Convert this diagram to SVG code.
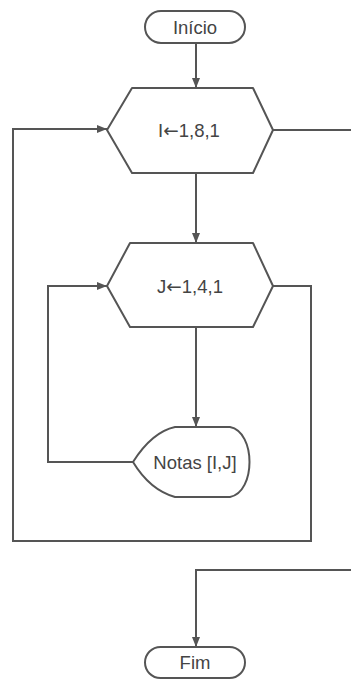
<svg xmlns="http://www.w3.org/2000/svg" width="351" height="681" viewBox="0 0 351 681">
<defs>
<marker id="ah" viewBox="0 0 10 10" refX="10" refY="5" markerWidth="10" markerHeight="10" markerUnits="userSpaceOnUse" orient="auto">
<path d="M0,1 L10,5 L0,9 Z" fill="#555"/>
</marker>
<style>
.shape{fill:#fff;stroke:#555;stroke-width:2;stroke-linejoin:round}
.line{fill:none;stroke:#555;stroke-width:2}
.txt{font-family:"Liberation Sans",Arial,sans-serif;font-size:18.5px;fill:#444;text-anchor:middle}
.arr{font-family:"DejaVu Sans",sans-serif}
</style>
</defs>
<rect width="351" height="681" fill="#fff"/>
<g id="connectors">
<path class="line" d="M196,43 L196,88" marker-end="url(#ah)"/>
<path class="line" d="M196,173 L196,243" marker-end="url(#ah)"/>
<path class="line" d="M196,327 L196,427" marker-end="url(#ah)"/>
<path class="line" d="M273,130 L351,130"/>
<path class="line" d="M273,286 L311,286 L311,541 L13,541 L13,129 L107,129" marker-end="url(#ah)"/>
<path class="line" d="M133,462 L48,462 L48,286 L107,286" marker-end="url(#ah)"/>
<path class="line" d="M351,570 L196,570 L196,647" marker-end="url(#ah)"/>
</g>
<g id="inicio">
<rect class="shape" x="145" y="11" width="100" height="32" rx="16" ry="16"/>
<text class="txt" x="195" y="34">Início</text>
</g>
<g id="loopI">
<path class="shape" d="M132,88 L253,88 L273,130 L253,173 L132,173 L107,130 Z"/>
<text class="txt" x="189" y="137">I<tspan class="arr">←</tspan>1,8,1</text>
</g>
<g id="loopJ">
<path class="shape" d="M130,243 L253,243 L273,286 L253,327 L130,327 L107,286 Z"/>
<text class="txt" x="190" y="293">J<tspan class="arr">←</tspan>1,4,1</text>
</g>
<g id="notas">
<path class="shape" d="M133,462 Q152,432 175,427 L230,427 C256,432 256,492 230,497 L175,497 Q150,490 133,462 Z"/>
<text class="txt" x="195" y="469">Notas [I,J]</text>
</g>
<g id="fim">
<rect class="shape" x="145" y="647" width="100" height="31" rx="15.5" ry="15.5"/>
<text class="txt" x="195" y="669">Fim</text>
</g>
</svg>
